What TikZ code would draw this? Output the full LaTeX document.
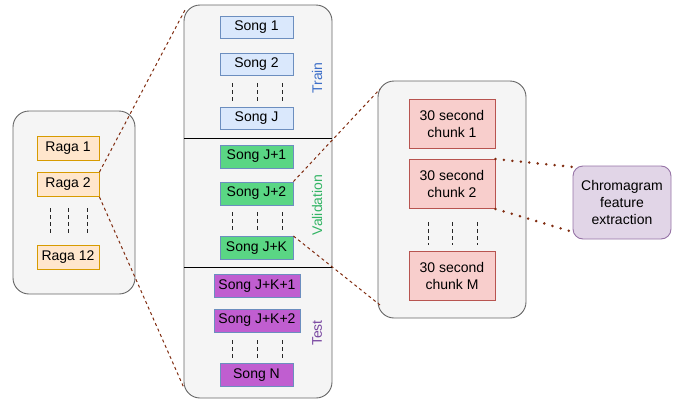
\documentclass[tikz,border=0pt]{standalone}
\usepackage{fontspec}
\setmainfont{Liberation Sans}
\definecolor{ragaS}{RGB}{215,155,0}
\definecolor{ragaF}{RGB}{255,230,204}
\definecolor{blueS}{RGB}{108,142,191}
\definecolor{trainF}{RGB}{218,232,252}
\definecolor{valF}{RGB}{90,214,132}
\definecolor{testF}{RGB}{192,94,208}
\definecolor{chunkS}{RGB}{184,84,80}
\definecolor{chunkF}{RGB}{248,206,204}
\definecolor{chromaS}{RGB}{150,115,166}
\definecolor{chromaF}{RGB}{225,213,231}
\definecolor{linkC}{RGB}{128,44,16}
\definecolor{trainT}{RGB}{60,110,200}
\definecolor{valT}{RGB}{50,180,100}
\definecolor{testT}{RGB}{120,70,160}
\begin{document}
\begin{tikzpicture}[x=1pt,y=-1pt,
  every node/.style={font=\fontsize{14}{17}\selectfont, inner sep=0pt, align=center},
  container/.style={draw=black!60, fill=black!4, line width=0.9pt, rounded corners=16pt},
  raga/.style={draw=ragaS, fill=ragaF, line width=0.9pt, minimum width=62pt, minimum height=24pt},
  trainbox/.style={draw=blueS, fill=trainF, line width=0.9pt, minimum width=73pt, minimum height=22pt},
  valbox/.style={draw=blueS, fill=valF, line width=0.9pt, minimum width=73pt, minimum height=23pt},
  testbox/.style={draw=blueS, fill=testF, line width=0.9pt, minimum height=23pt},
  chunk/.style={draw=chunkS, fill=chunkF, line width=0.9pt, minimum width=86pt, minimum height=49pt},
  chroma/.style={draw=chromaS, fill=chromaF, line width=0.9pt, rounded corners=10pt, minimum width=98pt, minimum height=73pt},
  listdash/.style={draw=black!85, line width=1pt, dash pattern=on 4pt off 3pt},
  zoomline/.style={draw=linkC, line width=1pt, dash pattern=on 3pt off 3pt},
  dotline/.style={draw=linkC, line width=2.8pt, line cap=round, dash pattern=on 0pt off 8.5pt},
  sidelabel/.style={rotate=90, font=\fontsize{14}{17}\selectfont}
]
\useasboundingbox (0,0) rectangle (686,407);

% containers
\node[container, minimum width=122pt, minimum height=183pt] (left) at (74,202.5) {};
\node[container, minimum width=148pt, minimum height=393pt] (mid) at (258,201.5) {};
\node[container, minimum width=148pt, minimum height=237pt] (right) at (452,199.5) {};

% dividers
\coordinate (d1a) at (184,138); \coordinate (d1b) at (332,138);
\coordinate (d2a) at (184,267); \coordinate (d2b) at (332,267);
\draw[black, line width=1pt] (d1a) -- (d1b);
\draw[black, line width=1pt] (d2a) -- (d2b);

% ragas
\node[raga] (r1) at (68,148) {Raga 1};
\node[raga] (r2) at (68,184.5) {Raga 2};
\node[raga] (r12) at (68,257.5) {Raga 12};
\foreach \x in {50,68,87} \draw[listdash] (\x,208) -- (\x,233);

% songs
\node[trainbox] (s1) at (256.5,27.5) {Song 1};
\node[trainbox] (s2) at (256.5,64) {Song 2};
\node[trainbox] (sj) at (256.5,118.5) {Song J};
\foreach \x in {232,257,282} \draw[listdash] (\x,83) -- (\x,103);
\node[valbox] (sj1) at (256.5,156.5) {Song J+1};
\node[valbox] (sj2) at (256.5,193.5) {Song J+2};
\node[valbox] (sjk) at (256.5,248) {Song J+K};
\foreach \x in {232,257,282} \draw[listdash] (\x,212) -- (\x,230);
\node[testbox, minimum width=86pt] (sjk1) at (257,286) {Song J+K+1};
\node[testbox, minimum width=86pt] (sjk2) at (257,320.5) {Song J+K+2};
\node[testbox, minimum width=73pt] (sn) at (256.5,375) {Song N};
\foreach \x in {232,257,282} \draw[listdash] (\x,340) -- (\x,358);

% side labels
\node[sidelabel, text=trainT] (ltrain) at (317,78) {Train};
\node[sidelabel, text=valT] (lval) at (317,205) {Validation};
\node[sidelabel, text=testT] (ltest) at (317,333) {Test};

% chunks
\node[chunk] (c1) at (452,123.5) {30 second\\chunk 1};
\node[chunk] (c2) at (452,184) {30 second\\chunk 2};
\node[chunk] (cm) at (452,276) {30 second\\chunk M};
\foreach \x in {428,452,477} \draw[listdash] (\x,222) -- (\x,245);

% chromagram
\node[chroma] (cf) at (622,202.5) {Chromagram\\feature\\extraction};

% zoom connectors
\coordinate (m1) at (185,10);
\coordinate (m2) at (184,388);
\coordinate (rr1) at (380,89);
\coordinate (rr2) at (380,305);
\coordinate (cf1) at (573,167);
\coordinate (cf2) at (573,232);
\draw[zoomline] (r2.north east) -- (m1);
\draw[zoomline] (r2.south east) -- (m2);
\draw[zoomline] (sj2.north east) -- (rr1);
\draw[zoomline] (sjk.north east) -- (rr2);
\draw[dotline] (c2.north east) -- (cf1);
\draw[dotline] (c2.south east) -- (cf2);
\end{tikzpicture}
\end{document}
